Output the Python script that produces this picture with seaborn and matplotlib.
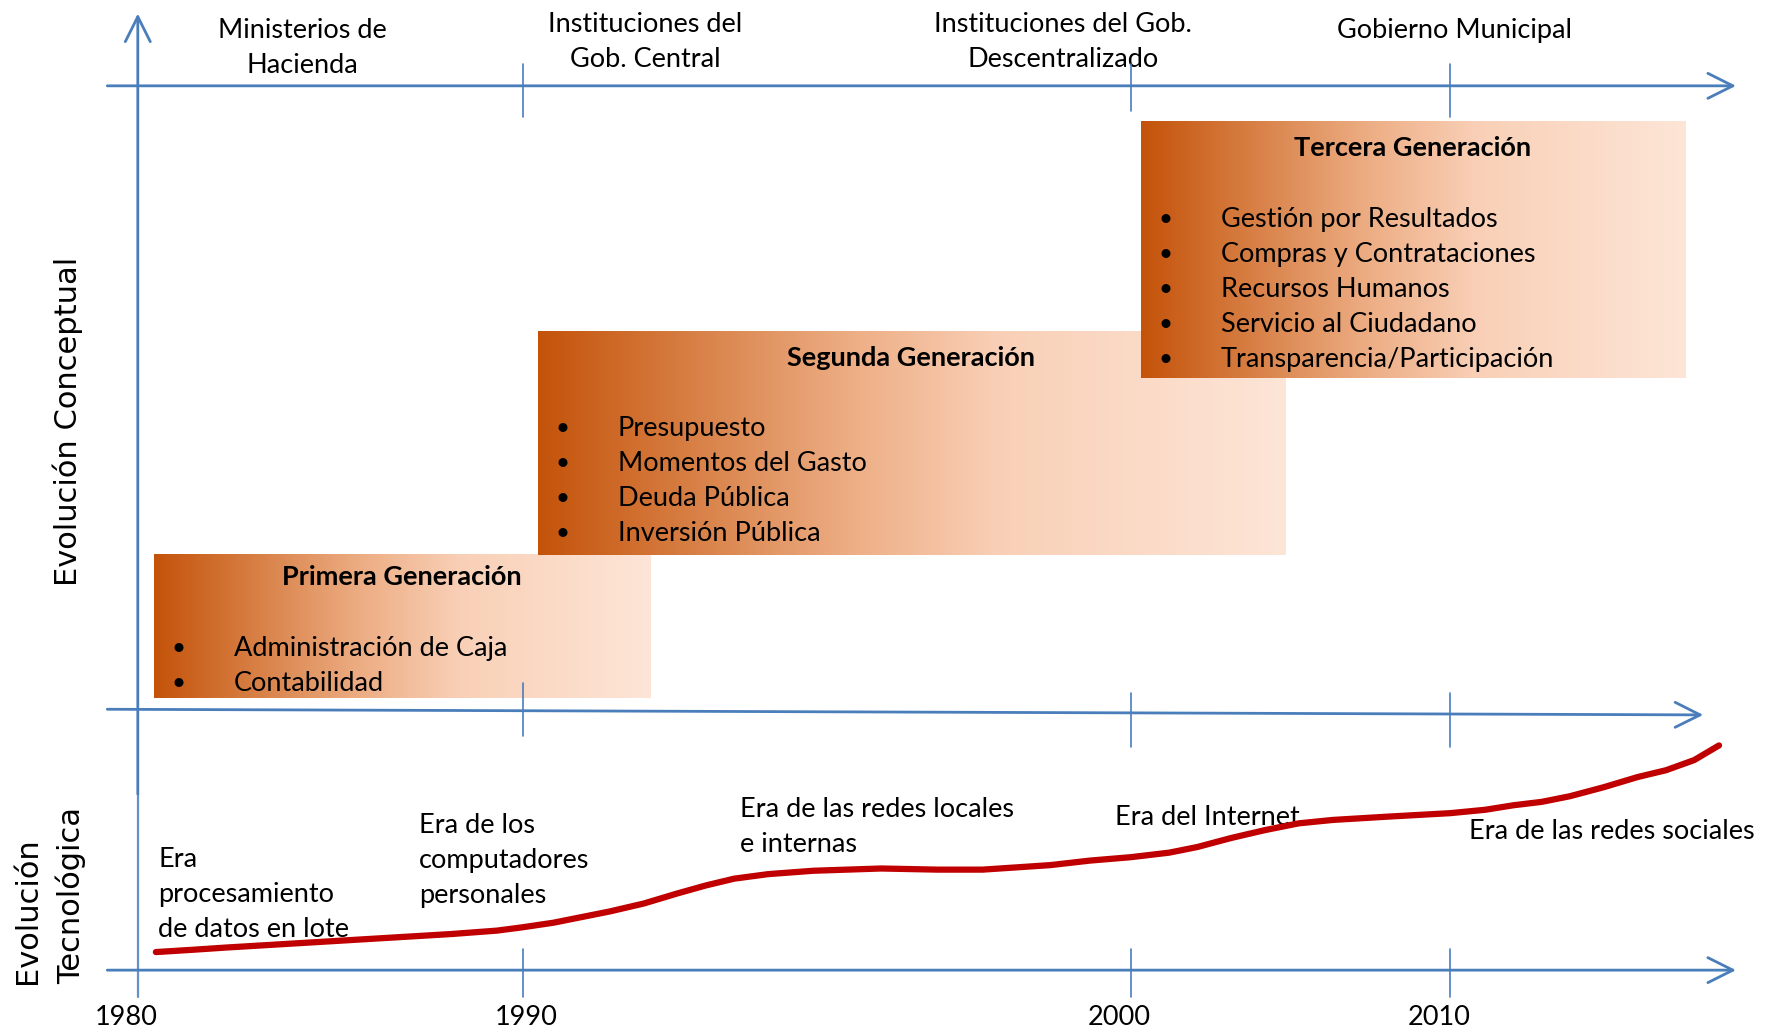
import numpy as np
import pandas as pd
import matplotlib
matplotlib.use('Agg')
import matplotlib.pyplot as plt
import seaborn as sns
from matplotlib.colors import LinearSegmentedColormap

sns.set_theme(style='white')
plt.rcParams['font.family'] = ['Lato', 'DejaVu Sans']

## data
years = ['1980', '1990', '2000', '2010']
institutions = ['Ministerios de\nHacienda', 'Instituciones del\nGob. Central',
                'Instituciones del Gob.\nDescentralizado', 'Gobierno Municipal']
gen_titles = ['Primera Generación', 'Segunda Generación', 'Tercera Generación']
gen_items = [
    ['Administración de Caja', 'Contabilidad'],
    ['Presupuesto', 'Momentos del Gasto', 'Deuda Pública', 'Inversión Pública'],
    ['Gestión por Resultados', 'Compras y Contrataciones', 'Recursos Humanos',
     'Servicio al Ciudadano', 'Transparencia/Participación'],
]
tech_eras = ['Era\nprocesamiento\nde datos en lote', 'Era de los\ncomputadores\npersonales',
             'Era de las redes locales\ne internas', 'Era del Internet',
             'Era de las redes sociales']
# technology curve (diagram units, y grows downwards)
tech_x = [138, 170, 200, 250, 300, 350, 400, 440, 463, 490, 515, 540, 570, 600, 625,
          650, 680, 720, 780, 830, 870, 900, 930, 965, 1001, 1035, 1060, 1090, 1120,
          1150, 1180, 1230, 1284, 1315, 1340, 1365, 1390, 1420, 1450, 1475, 1500, 1522]
tech_y = [843, 841, 839, 836, 833, 830, 827, 824, 821, 817, 812, 807, 800, 791, 784,
          778, 774, 771, 769, 770, 770, 768, 766, 762, 759, 755, 750, 742, 735,
          729, 726, 723, 720, 717, 713, 710, 705, 697, 688, 682, 673, 660]

## layout (diagram units = shrunk reference pixels)
W, H = 1568, 912
year_x = [122, 463, 1001, 1284]
year_lab_x = [112, 466, 991, 1274]
inst_pos = [(268, [27, 58]), (571, [22, 53]), (941, [22, 53]), (1288, [27])]
boxes = [(136, 576, 491, 618), (476, 1138, 293, 491), (1010, 1492, 108, 335)]
title_y = [511, 317, 131]
item_y0 = [574, 379, 194]
era_pos = [(140, 761), (371, 731), (655, 717), (987, 724), (1301, 736)]
step = 31

blue = '#4A7EBB'
fs = 19.5

grad = LinearSegmentedColormap.from_list('gen', [
    (0.0, '#C4530A'), (0.18, '#D57A3E'), (0.42, '#EDAE85'),
    (0.62, '#F9D0B7'), (1.0, '#FDE5D7')])

fig = plt.figure(figsize=(17.71, 10.30), dpi=100)
ax = fig.add_axes([0, 0, 1, 1])
ax.set_axis_off()

# axes lines
arrow = dict(arrowstyle='->,head_length=0.9,head_width=0.45', color=blue, lw=2.0,
             shrinkA=0, shrinkB=0, mutation_scale=20)
ax.annotate('', xy=(1537, 76), xytext=(95, 76), arrowprops=arrow, zorder=3)
ax.annotate('', xy=(1508, 633), xytext=(95, 628), arrowprops=arrow, zorder=3)
ax.annotate('', xy=(1537, 859), xytext=(95, 859), arrowprops=arrow, zorder=3)
ax.annotate('', xy=(122, 12), xytext=(122, 703), arrowprops=arrow, zorder=3)
ax.plot([122, 122], [703, 883], color=blue, lw=1.6, alpha=0.85, zorder=3)

tick_spans = [[(57, 104), (57, 98), (57, 104)],
              [(605, 652), (614, 661), (614, 661)],
              [(840, 883), (840, 883), (840, 883)]]
for spans in tick_spans:
    for xt, (a, b) in zip(year_x[1:], spans):
        ax.plot([xt, xt], [a, b], color=blue, lw=1.2, zorder=4)

# generation boxes
g = np.linspace(0, 1, 256).reshape(1, -1)
for i, (x0, x1, y0, y1) in enumerate(boxes):
    ax.imshow(g, cmap=grad, extent=(x0, x1, y1, y0), aspect='auto', zorder=2 + i * 0.01,
              interpolation='bicubic')
    ax.text((x0 + x1) / 2, title_y[i], gen_titles[i], ha='center', va='center',
            fontsize=fs, fontweight='bold', color='black', zorder=5)
    for j, item in enumerate(gen_items[i]):
        yy = item_y0[i] + j * step
        ax.text(x0 + 22, yy, '•', ha='center', va='center', fontsize=fs - 2,
                color='black', zorder=5)
        ax.text(x0 + 71, yy, item, ha='left', va='center', fontsize=fs,
                color='black', zorder=5)

# technology curve
sns.lineplot(x=tech_x, y=tech_y, color='#C00000', lw=4.5, ax=ax, zorder=4,
             solid_capstyle='round', solid_joinstyle='round')

# texts
for lab, (xc, ys) in zip(institutions, inst_pos):
    for line, yy in zip(lab.split('\n'), ys):
        ax.text(xc, yy, line, ha='center', va='center', fontsize=fs, color='black')
for lab, xl in zip(years, year_lab_x):
    ax.text(xl, 901, lab, ha='center', va='center', fontsize=fs, color='black')
for lab, (xl, yl) in zip(tech_eras, era_pos):
    for j, line in enumerate(lab.split('\n')):
        ax.text(xl, yl + j * step, line, ha='left', va='center', fontsize=fs, color='black')

ax.text(60, 373, 'Evolución Conceptual', rotation=90, ha='center', va='center',
        fontsize=22, family='DejaVu Sans', color='black')
ax.text(24, 871, 'Evolución', rotation=90, rotation_mode='anchor', ha='left', va='center',
        fontsize=22, family='DejaVu Sans', color='black')
ax.text(63, 871, 'Tecnológica', rotation=90, rotation_mode='anchor', ha='left', va='center',
        fontsize=22, family='DejaVu Sans', color='black')

ax.set_xlim(0, W)
ax.set_ylim(H, 0)
fig.savefig('out.png', dpi=100, facecolor='white')
